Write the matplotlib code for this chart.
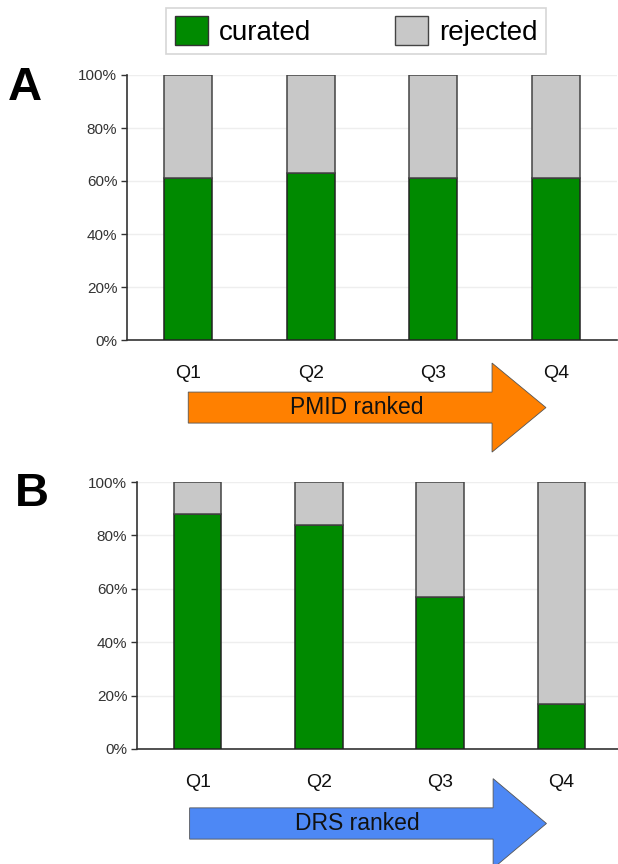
import matplotlib.pyplot as plt
import matplotlib.transforms as mtransforms
from matplotlib.patches import Patch, FancyArrow
from matplotlib.ticker import PercentFormatter

plt.rcParams['font.family'] = ['Liberation Sans', 'DejaVu Sans']

# data (share of curated papers per quartile, %)
quartiles = ['Q1', 'Q2', 'Q3', 'Q4']
pmid_curated = [61, 63, 61, 61]
drs_curated = [88, 84, 57, 17]
pmid_rejected = [100 - v for v in pmid_curated]
drs_rejected = [100 - v for v in drs_curated]

green = '#008a00'
grey = '#c8c8c8'

W, H = 618, 864
fig = plt.figure(figsize=(W / 100, H / 100), dpi=100)

def px_axes(left, top, right, bottom):
    return fig.add_axes([left / W, 1 - bottom / H, (right - left) / W, (bottom - top) / H])

axA = px_axes(127, 75, 617, 340)
axB = px_axes(137, 482, 622, 749)

# arrow settings: start x, tip x, head length, centre y (axes fraction)
panels = [
    (axA, pmid_curated, pmid_rejected, 'PMID ranked', '#ff8000', (0.0, 2.92, 0.44, -0.255)),
    (axB, drs_curated, drs_rejected, 'DRS ranked', '#4d88f5', (-0.066, 2.877, 0.44, -0.279)),
]

x = list(range(len(quartiles)))
for ax, cur, rej, arrow_text, arrow_col, (x0, x1, hl, yc) in panels:
    ax.bar(x, cur, width=0.39, color=green, edgecolor='#222222', linewidth=1.1, zorder=3)
    ax.bar(x, rej, bottom=cur, width=0.39, color=grey, edgecolor='#444444', linewidth=1.1, zorder=3)
    ax.set_xlim(-0.5, 3.5)
    ax.set_ylim(0, 100)
    ax.set_yticks([0, 20, 40, 60, 80, 100])
    ax.yaxis.set_major_formatter(PercentFormatter(decimals=0))
    ax.set_xticks(x)
    ax.set_xticklabels(quartiles, fontsize=14)
    ax.tick_params(axis='x', length=0, pad=18, colors='#111111')
    ax.tick_params(axis='y', length=4, width=1, labelsize=11, colors='#333333', pad=3, direction='out')
    ax.yaxis.grid(True, color='#eeeeee', linewidth=1, zorder=0)
    ax.set_axisbelow(True)
    for s in ['top', 'right']:
        ax.spines[s].set_visible(False)
    for s in ['left', 'bottom']:
        ax.spines[s].set_color('#333333')
        ax.spines[s].set_linewidth(1.2)

    # rank arrow below the quartile labels
    trans = mtransforms.blended_transform_factory(ax.transData, ax.transAxes)
    arr = FancyArrow(x0, yc, x1 - x0, 0, width=0.117, head_width=0.336, head_length=hl,
                     length_includes_head=True, transform=trans, clip_on=False,
                     facecolor=arrow_col, edgecolor='#555555', linewidth=0.6)
    ax.add_patch(arr)
    ax.text((x0 + x1 - hl) / 2 + 0.135, yc, arrow_text, transform=trans, ha='center', va='center',
            fontsize=16.5, color='#111111')

fig.text(8 / W, 1 - 88 / H, 'A', fontsize=34, fontweight='bold', va='center', ha='left')
fig.text(15 / W, 1 - 494 / H, 'B', fontsize=34, fontweight='bold', va='center', ha='left')

handles = [Patch(facecolor=green, edgecolor='#333333', label='curated'),
           Patch(facecolor=grey, edgecolor='#444444', label='rejected')]
leg = fig.legend(handles=handles, loc='center', bbox_to_anchor=(356 / W, 1 - 31 / H), ncol=2,
                 fontsize=20, frameon=True, fancybox=False, handlelength=1.2, handleheight=1.2,
                 handletextpad=0.4, columnspacing=3.0, borderpad=0.3, borderaxespad=0)
leg.get_frame().set_edgecolor('#cccccc')
leg.get_frame().set_linewidth(1.2)

fig.savefig('out.png', dpi=100)
